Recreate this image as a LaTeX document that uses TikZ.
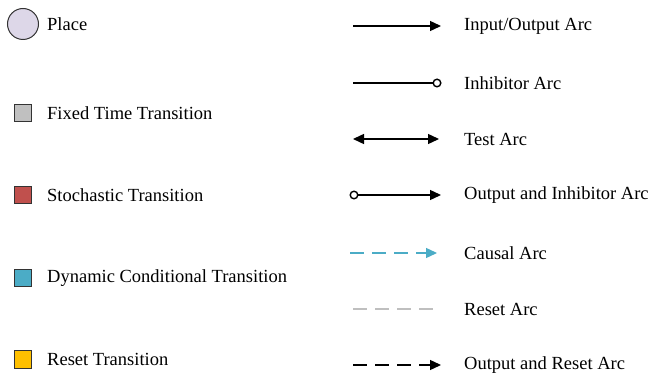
\documentclass[tikz,border=0pt]{standalone}
\usepackage{fontspec}
\setmainfont{Liberation Serif}
\usetikzlibrary{arrows.meta}
\definecolor{placefill}{RGB}{221,215,232}
\definecolor{fixedfill}{RGB}{192,192,192}
\definecolor{stochfill}{RGB}{192,80,77}
\definecolor{dynfill}{RGB}{75,172,198}
\definecolor{resetfill}{RGB}{255,192,0}
\definecolor{causalcol}{RGB}{75,172,198}
\definecolor{resetcol}{RGB}{191,191,191}
\tikzset{
  lbl/.style={anchor=west, inner sep=0pt, font=\fontsize{18.5}{22}\selectfont},
  trans/.style={draw=black!80, line width=1pt, minimum size=17.5pt, inner sep=0pt},
  arc/.style={line width=1.4pt},
  tip/.style={-{Triangle[length=11pt,width=10pt]}},
  dashpat/.style={dash pattern=on 14pt off 8pt},
}
\begin{document}
\begin{tikzpicture}[x=1pt,y=-1pt]
\useasboundingbox (0,0) rectangle (651,374);
% left legend
\node[circle, draw=black!80, line width=1pt, fill=placefill, minimum size=31pt, inner sep=0pt] (place) at (23,24) {};
\node[lbl] (placel) at (47,24) {Place};
\node[trans, fill=fixedfill] (fixed) at (23,113) {};
\node[lbl] (fixedl) at (47,113) {Fixed Time Transition};
\node[trans, fill=stochfill] (stoch) at (23,195) {};
\node[lbl] (stochl) at (47,195) {Stochastic Transition};
\node[trans, fill=dynfill] (dyn) at (23,278) {};
\node[lbl] (dynl) at (47,278) {Dynamic Conditional Transition};
\node[trans, fill=resetfill] (reset) at (23,359.5) {};
\node[lbl] (resetl) at (47,359.5) {Reset Transition};
% right legend
\coordinate (a1s) at (353,26); \coordinate (a1e) at (441,26);
\draw[arc, tip] (a1s) -- (a1e);
\node[lbl] (a1l) at (464,26) {Input/Output Arc};

\coordinate (a2s) at (353,83); \coordinate (a2e) at (441.5,83);
\draw[arc, -{Circle[open,length=9pt,width=9pt,line width=1.4pt]}] (a2s) -- (a2e);
\node[lbl] (a2l) at (464,83) {Inhibitor Arc};

\coordinate (a3s) at (353,139); \coordinate (a3e) at (439,139);
\draw[arc, {Triangle[length=11pt,width=10pt]}-{Triangle[length=11pt,width=10pt]}] (a3s) -- (a3e);
\node[lbl] (a3l) at (464,139) {Test Arc};

\coordinate (a4s) at (349.5,195); \coordinate (a4e) at (441,195);
\draw[arc, {Circle[open,length=9pt,width=9pt,line width=1.4pt]}-{Triangle[length=11pt,width=10pt]}] (a4s) -- (a4e);
\node[lbl] (a4l) at (464,195) {Output and Inhibitor Arc};

\coordinate (a5s) at (350,253); \coordinate (a5e) at (437,253);
\draw[arc, causalcol, dashpat, tip] (a5s) -- (a5e);
\node[lbl] (a5l) at (464,253) {Causal Arc};

\coordinate (a6s) at (353,309); \coordinate (a6e) at (434,309);
\draw[arc, resetcol, dashpat] (a6s) -- (a6e);
\node[lbl] (a6l) at (464,309) {Reset Arc};

\coordinate (a7s) at (353,365); \coordinate (a7e) at (441,365);
\draw[arc, dashpat, tip] (a7s) -- (a7e);
\node[lbl] (a7l) at (464,365) {Output and Reset Arc};
\end{tikzpicture}
\end{document}
